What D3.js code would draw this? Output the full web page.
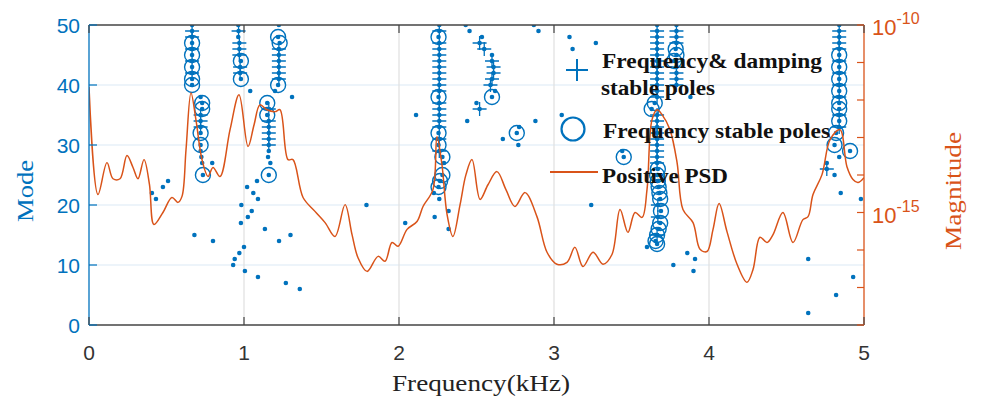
<!DOCTYPE html>
<html><head><meta charset="utf-8">
<script src="https://cdn.jsdelivr.net/npm/d3@7"></script>
<style>body{margin:0;background:#fff}svg{display:block}</style>
</head><body>
<svg id="chart" width="986" height="402"></svg>
<script>
// ---------- DATA ----------
const xTicks = [0,1,2,3,4,5];
const modeTicks = [0,10,20,30,40,50];
const magTickExps = [-18,-17,-16,-15,-14,-13,-12,-11,-10];
const magLabelExps = [-10,-15];

// all unstable / plain poles [freq kHz, mode]
const plainPoles = [
 [0.406,22],[0.432,21],[0.477,23],[0.51,24],
 [0.665,50],[0.72,38],[0.72,29],[0.725,28],[0.73,27],[0.795,27],
 [0.68,15],[0.80,14],[0.93,10],[0.94,11],[0.97,12],[1.0,13],[1.006,9],[0.983,20],[0.98,17],
 [1.025,18],[1.05,19],[1.06,22],[1.09,21],[1.09,8],[1.135,16],[1.226,14],[1.30,15],[1.27,7],[1.36,6],
 [1.02,23],[1.084,24],
 [0.963,50],[0.963,48],[1.04,39],
 [1.225,50],[1.2,39],[1.31,38],[1.155,28],[1.16,29],[1.17,27],
 [1.79,20],[2.04,17],[2.11,35],
 [2.26,50],[2.29,27],[2.225,22],[2.26,21],[2.32,19],[2.23,18],[2.32,16],
 [2.43,50],[2.455,49],[2.535,48],[2.6,45],[2.62,39],[2.5,37],[2.44,34],
 [2.775,33],[2.77,30],[2.67,31],[2.87,50],[2.9,49],[2.88,34],
 [3.05,35],[3.1,48],[3.12,46],[3.27,47],[3.24,20],[3.44,29],
 [3.665,50],[3.6,13],[3.79,50],[3.88,38],[3.77,10],[3.86,12],[3.91,11],[3.9,9],
 [4.84,50],[4.84,28],[4.76,27],[4.81,25],[4.85,22],[4.98,21],[4.64,11],[4.93,8],[4.82,5],[4.64,2]
];

// frequency & damping stable poles
const fdStablePoles = [
 [0.665,49],[0.665,48],[0.665,46],[0.665,44],[0.665,42],
 [0.72,35],[0.72,34],[0.72,33],
 [0.965,49],[0.97,47],[0.97,46],[0.97,45],[0.975,43],[0.975,42],
 [1.225,46],[1.225,45],[1.225,44],[1.225,43],[1.225,42],[1.225,41],
 [1.16,36],[1.16,34],[1.16,33],[1.16,32],[1.16,31],[1.16,30],
 [2.26,49],[2.26,47],[2.26,46],[2.26,45],[2.26,44],[2.26,43],[2.26,42],[2.26,41],[2.26,40],[2.26,39],
 [2.26,37],[2.26,36],[2.26,35],[2.26,34],[2.26,33],[2.26,31],[2.26,29],
 [2.52,47],[2.55,46],[2.6,44],[2.61,43],[2.61,42],[2.6,41],[2.59,40],[2.52,36],
 [3.665,49],[3.665,48],[3.665,47],[3.665,46],[3.665,45],[3.665,44],[3.665,43],[3.665,42],[3.665,41],
 [3.665,40],[3.665,39],[3.665,38],[3.665,35],[3.665,34],[3.665,33],[3.665,32],[3.665,31],[3.665,30],
 [3.665,29],[3.665,28],[3.665,27],[3.67,20],[3.67,18],[3.665,15],
 [3.79,49],[3.79,48],[3.79,47],[3.79,43],[3.79,42],[3.79,41],[3.79,40],
 [4.84,49],[4.84,48],[4.84,47],[4.84,46],[4.84,44],[4.84,42],[4.84,40],[4.84,38],[4.84,35],[4.84,33],
 [4.76,26]
];

// frequency stable poles
const fStablePoles = [
 [0.665,47],[0.665,45],[0.665,43],[0.665,41],[0.665,40],
 [0.73,37],[0.73,36],[0.72,32],[0.72,30],[0.735,25],
 [0.98,44],[0.98,41],
 [1.22,48],[1.23,47],[1.22,40],
 [1.15,37],[1.15,35],[1.16,25],
 [2.255,48],[2.255,38],[2.255,32],[2.255,30],[2.28,28],[2.28,25],[2.265,24],[2.255,23],
 [2.6,38],[2.76,32],[3.45,28],
 [3.65,37],[3.63,36],
 [3.67,26],[3.665,25],[3.67,24],[3.675,23],[3.68,22],[3.685,21],[3.69,19],[3.685,17],[3.675,16],
 [3.665,15],[3.655,14],[3.665,13.5],
 [3.785,46],[3.79,45],[3.775,44],
 [4.84,45],[4.84,43],[4.84,41],[4.84,39],[4.84,37],[4.84,36],[4.84,34],[4.82,32],[4.81,30],[4.91,29]
];

// positive PSD: frequency (kHz) and log10 magnitude
const psdFreq = [0,0.058,0.116,0.155,0.2,0.245,0.284,0.316,0.355,0.39,0.419,0.477,0.535,0.574,0.6,0.626,0.658,0.69,0.729,0.768,0.8,0.845,0.91,0.968,1.026,1.065,1.103,1.148,1.2,1.232,1.284,1.316,1.381,1.458,1.523,1.587,1.652,1.697,1.735,1.794,1.865,1.91,1.955,1.994,2.052,2.116,2.155,2.219,2.245,2.277,2.31,2.348,2.394,2.432,2.471,2.523,2.574,2.632,2.69,2.748,2.813,2.89,2.955,3.019,3.084,3.135,3.187,3.252,3.316,3.374,3.426,3.477,3.523,3.568,3.6,3.632,3.665,3.697,3.748,3.794,3.832,3.897,3.942,3.987,4.026,4.065,4.116,4.181,4.245,4.284,4.329,4.374,4.413,4.477,4.542,4.606,4.639,4.671,4.729,4.781,4.845,4.89,4.929,4.961,5.0];
const psdLogMag = [-11.65,-14.52,-13.67,-14.10,-14.10,-13.48,-13.80,-14.10,-13.59,-14.25,-15.32,-15.00,-14.60,-14.73,-14.57,-13.32,-11.81,-12.53,-13.59,-14.04,-13.80,-14.04,-12.79,-11.86,-13.24,-12.66,-12.13,-12.26,-12.31,-12.26,-13.59,-13.59,-14.60,-14.97,-15.27,-15.64,-14.79,-15.59,-16.20,-16.57,-16.17,-16.30,-15.80,-15.90,-15.45,-15.24,-14.84,-14.39,-12.98,-13.72,-15.05,-15.64,-14.79,-13.99,-13.59,-14.65,-14.26,-13.91,-14.39,-14.84,-14.47,-15.11,-16.06,-16.38,-16.33,-15.93,-16.44,-16.06,-16.38,-16.12,-14.92,-15.53,-15.00,-15.13,-14.39,-12.53,-12.26,-12.39,-12.79,-13.67,-14.92,-15.27,-15.98,-16.04,-15.45,-14.76,-15.51,-16.38,-16.86,-16.52,-15.66,-15.80,-15.59,-15.00,-15.80,-15.19,-15.11,-14.52,-13.99,-13.06,-12.79,-13.78,-14.12,-14.20,-14.07];

const legendItems = ["Frequency& damping", "stable poles", "Frequency stable poles", "Positive PSD"];

// ---------- DRAW ----------
const blue = "#0072BD", orange = "#D95319";
const svg = d3.select("#chart");
const m = {l:89, r:122, t:25, b:77};
const W = 986, H = 402;
const x = d3.scaleLinear().domain([0,5]).range([m.l, W-m.r]);
const y = d3.scaleLinear().domain([0,50]).range([H-m.b, m.t]);
const yMag = d3.scaleLog().domain([1e-18,1e-10]).range([H-m.b, m.t]);

svg.append("defs").append("clipPath").attr("id","clip")
  .append("rect").attr("x",m.l).attr("y",m.t).attr("width",W-m.l-m.r).attr("height",H-m.t-m.b);

// grid
const g = svg.append("g");
g.selectAll(".hg").data(modeTicks.slice(1,-1)).join("line")
  .attr("x1",m.l).attr("x2",W-m.r).attr("y1",d=>y(d)).attr("y2",d=>y(d))
  .attr("stroke","#dce9f5").attr("stroke-width",1.2);
g.selectAll(".vg").data(xTicks.slice(1,-1)).join("line")
  .attr("y1",m.t).attr("y2",H-m.b).attr("x1",d=>x(d)).attr("x2",d=>x(d))
  .attr("stroke","#e0e0e0").attr("stroke-width",1.2);

// data
const plot = svg.append("g").attr("clip-path","url(#clip)");
const allDots = plainPoles.concat(fdStablePoles, fStablePoles);
plot.selectAll(".dot").data(allDots).join("circle")
  .attr("cx",d=>x(d[0])).attr("cy",d=>y(d[1])).attr("r",2.3).attr("fill",blue);
const ps = 7;
plot.selectAll(".plus").data(fdStablePoles).join("path")
  .attr("d",d=>{const cx=x(d[0]), cy=y(d[1]); return `M${cx-ps},${cy}H${cx+ps}M${cx},${cy-ps}V${cy+ps}`;})
  .attr("stroke",blue).attr("stroke-width",1.3).attr("fill","none");
plot.selectAll(".circ").data(fStablePoles).join("circle")
  .attr("cx",d=>x(d[0])).attr("cy",d=>y(d[1])).attr("r",7.5)
  .attr("fill","none").attr("stroke",blue).attr("stroke-width",1.4);

const psd = psdFreq.map((f,i)=>[f, Math.pow(10, psdLogMag[i])]);
plot.append("path").datum(psd)
  .attr("d", d3.line().x(d=>x(d[0])).y(d=>yMag(d[1])).curve(d3.curveCatmullRom.alpha(0.5)))
  .attr("fill","none").attr("stroke",orange).attr("stroke-width",1.5);

// axes frame
svg.append("line").attr("x1",m.l).attr("x2",W-m.r).attr("y1",m.t).attr("y2",m.t).attr("stroke","#444").attr("stroke-width",1.3);
svg.append("line").attr("x1",m.l).attr("x2",W-m.r).attr("y1",H-m.b).attr("y2",H-m.b).attr("stroke","#444").attr("stroke-width",1.3);
svg.append("line").attr("x1",m.l).attr("x2",m.l).attr("y1",m.t).attr("y2",H-m.b).attr("stroke",blue).attr("stroke-width",1.3);
svg.append("line").attr("x1",W-m.r).attr("x2",W-m.r).attr("y1",m.t).attr("y2",H-m.b).attr("stroke",orange).attr("stroke-width",1.3);

// bottom/top ticks
const xa = svg.append("g");
xTicks.forEach(t=>{
  xa.append("line").attr("x1",x(t)).attr("x2",x(t)).attr("y1",H-m.b).attr("y2",H-m.b-8).attr("stroke","#444").attr("stroke-width",1.2);
  xa.append("line").attr("x1",x(t)).attr("x2",x(t)).attr("y1",m.t).attr("y2",m.t+8).attr("stroke","#444").attr("stroke-width",1.2);
  xa.append("text").attr("x",x(t)).attr("y",H-m.b+35).attr("text-anchor","middle")
    .attr("font-family","Liberation Sans, Arial, sans-serif").attr("font-size",21).attr("fill","#333").text(t);
});
// left ticks
modeTicks.forEach(t=>{
  svg.append("line").attr("x1",m.l).attr("x2",m.l+8).attr("y1",y(t)).attr("y2",y(t)).attr("stroke",blue).attr("stroke-width",1.2);
  svg.append("text").attr("x",m.l-9).attr("y",y(t)).attr("dy","0.36em").attr("text-anchor","end")
    .attr("font-family","Liberation Sans, Arial, sans-serif").attr("font-size",21).attr("fill",blue).text(t);
});
// right ticks
magTickExps.forEach(e=>{
  svg.append("line").attr("x1",W-m.r).attr("x2",W-m.r-7).attr("y1",yMag(Math.pow(10,e))).attr("y2",yMag(Math.pow(10,e))).attr("stroke",orange).attr("stroke-width",1.2);
});
magLabelExps.forEach(e=>{
  const t = svg.append("text").attr("x",W-m.r+8).attr("y",yMag(Math.pow(10,e))+10)
    .attr("font-family","Liberation Sans, Arial, sans-serif").attr("font-size",22).attr("fill",orange);
  t.append("tspan").text("10");
  t.append("tspan").attr("dy",-11).attr("font-size",16).text(String(e));
});

// axis titles
const serif = "Liberation Serif, Times New Roman, serif";
svg.append("text").attr("x",481).attr("y",391).attr("text-anchor","middle")
  .attr("font-family",serif).attr("font-size",23).attr("textLength",178).attr("lengthAdjust","spacingAndGlyphs")
  .attr("fill","#222").text("Frequency(kHz)");
svg.append("text").attr("transform","translate(33,191) rotate(-90)").attr("text-anchor","middle")
  .attr("font-family",serif).attr("font-size",24).attr("textLength",62).attr("lengthAdjust","spacingAndGlyphs")
  .attr("fill",blue).text("Mode");
svg.append("text").attr("transform","translate(961,191) rotate(-90)").attr("text-anchor","middle")
  .attr("font-family",serif).attr("font-size",24).attr("textLength",118).attr("lengthAdjust","spacingAndGlyphs")
  .attr("fill",orange).text("Magnitude");

// legend
const lg = svg.append("g").attr("font-family",serif).attr("font-weight","bold").attr("font-size",22).attr("fill","#111");
lg.append("path").attr("d","M566,70H588M577,59V81").attr("stroke",blue).attr("stroke-width",2).attr("fill","none");
lg.append("text").attr("x",602).attr("y",68).attr("textLength",220).attr("lengthAdjust","spacingAndGlyphs").text(legendItems[0]);
lg.append("text").attr("x",601).attr("y",95).attr("textLength",114).attr("lengthAdjust","spacingAndGlyphs").text(legendItems[1]);
lg.append("circle").attr("cx",573).attr("cy",129).attr("r",11.5).attr("fill","none").attr("stroke",blue).attr("stroke-width",2.2);
lg.append("text").attr("x",603).attr("y",138).attr("textLength",227).attr("lengthAdjust","spacingAndGlyphs").text(legendItems[2]);
lg.append("line").attr("x1",550).attr("x2",598).attr("y1",172).attr("y2",172).attr("stroke",orange).attr("stroke-width",2);
lg.append("text").attr("x",602).attr("y",183).attr("textLength",126).attr("lengthAdjust","spacingAndGlyphs").text(legendItems[3]);
</script>
</body></html>
